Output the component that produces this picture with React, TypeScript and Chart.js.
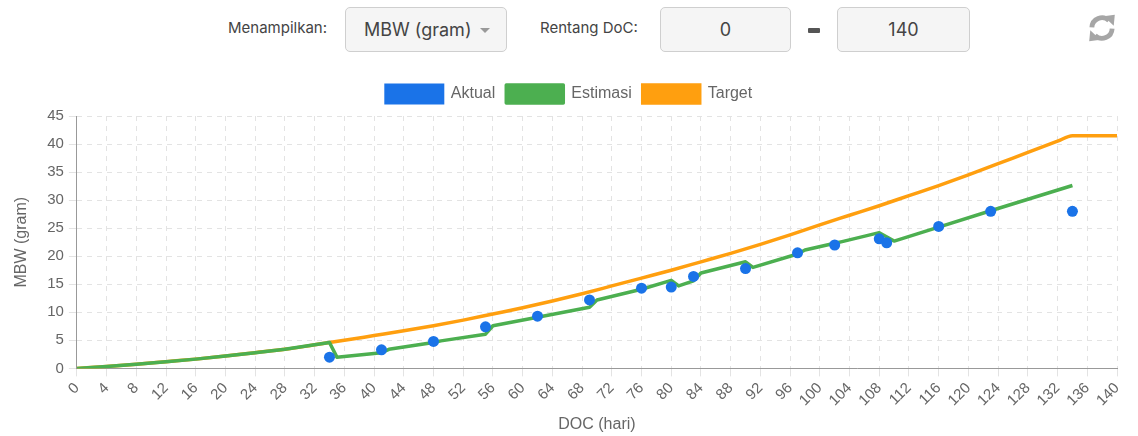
import React, { useEffect, useRef } from 'react';
import { Chart, registerables } from 'chart.js';

Chart.register(...registerables);

// ---- Data ----
const actualDays = [34, 41, 48, 55, 62, 69, 76, 80, 83, 90, 97, 102, 108, 109, 116, 123, 134];
const actualValues = [2.0, 3.3, 4.8, 7.4, 9.3, 12.2, 14.3, 14.5, 16.4, 17.8, 20.6, 22.0, 23.1, 22.4, 25.3, 28.0, 28.0];

const estimasiDays = [0, 4, 8, 12, 16, 20, 24, 28, 32, 34, 35, 41, 42, 48, 49, 55, 56, 62, 69, 70, 76, 80, 81, 83, 84, 90, 91, 97, 98, 102, 103, 108, 110, 116, 123, 134];
const estimasiValues = [0, 0.35, 0.75, 1.2, 1.65, 2.2, 2.8, 3.4, 4.2, 4.6, 2.0, 2.8, 3.4, 4.6, 4.9, 6.1, 7.6, 9.1, 10.9, 12.2, 14.1, 15.7, 14.7, 15.6, 17.0, 19.0, 18.0, 20.4, 21.1, 22.3, 22.6, 24.2, 22.7, 25.2, 28.1, 32.6];

const targetDays = [0, 4, 8, 12, 16, 20, 24, 28, 32, 34, 36, 40, 44, 48, 52, 56, 60, 64, 68, 72, 76, 80, 84, 88, 92, 96, 100, 104, 108, 112, 116, 120, 124, 128, 132, 134, 140];
const targetValues = [0, 0.35, 0.75, 1.2, 1.65, 2.2, 2.8, 3.4, 4.2, 4.6, 5.0, 5.85, 6.7, 7.6, 8.6, 9.7, 10.8, 12.0, 13.3, 14.7, 16.1, 17.5, 19.0, 20.5, 22.1, 23.8, 25.6, 27.3, 29.0, 30.8, 32.6, 34.5, 36.5, 38.5, 40.5, 41.5, 41.5];

const seriesLabels = ['Aktual', 'Estimasi', 'Target'];
const seriesColors = ['#1a73e8', '#4caf50', '#ff9f0f'];

const xMin = 0;
const xMax = 140;
const xStep = 4;
const yMin = 0;
const yMax = 45;
const yStep = 5;
const xTitle = 'DOC (hari)';
const yTitle = 'MBW (gram)';

const zip = (xs: number[], ys: number[]) => xs.map((x, i) => ({ x, y: ys[i] }));

// adds a little space below the legend
const legendGap = {
  id: 'legendGap',
  beforeInit(chart: any) {
    const legend = chart.legend;
    if (!legend) return;
    const origFit = legend.fit;
    legend.fit = function () {
      origFit.call(this);
      this.height += 3;
    };
  },
};

function RefreshIcon() {
  return (
    <svg width="32" height="32" viewBox="0 0 30 30">
      <g fill="none" stroke="#a6a6a6" strokeWidth="4.5" strokeLinecap="butt">
        <path d="M5.5 14.5 A9.5 9.5 0 0 1 21.5 8" />
        <path d="M24.5 15.5 A9.5 9.5 0 0 1 8.5 22" />
      </g>
      <polygon points="16.5,4 27,2.5 26,13" fill="#a6a6a6" />
      <polygon points="13.5,26 3,27.5 4,17" fill="#a6a6a6" />
    </svg>
  );
}

export default function App() {
  const canvasRef = useRef<HTMLCanvasElement | null>(null);

  useEffect(() => {
    if (!canvasRef.current) return;
    const tickFont = { family: 'Liberation Sans, Arial', size: 15 };
    const titleFont = { family: 'Liberation Sans, Arial', size: 16 };
    const chart = new Chart(canvasRef.current, {
      type: 'line',
      plugins: [legendGap],
      data: {
        datasets: [
          {
            label: seriesLabels[0],
            data: zip(actualDays, actualValues),
            showLine: false,
            backgroundColor: seriesColors[0],
            borderColor: seriesColors[0],
            pointRadius: 5.5,
            pointBorderWidth: 0,
            pointBackgroundColor: seriesColors[0],
          },
          {
            label: seriesLabels[1],
            data: zip(estimasiDays, estimasiValues),
            borderColor: seriesColors[1],
            backgroundColor: seriesColors[1],
            borderWidth: 3.5,
            pointRadius: 0,
            tension: 0,
            borderJoinStyle: 'round',
            fill: false,
          },
          {
            label: seriesLabels[2],
            data: zip(targetDays, targetValues),
            borderColor: seriesColors[2],
            backgroundColor: seriesColors[2],
            borderWidth: 3.5,
            pointRadius: 0,
            cubicInterpolationMode: 'monotone',
            fill: false,
          },
        ],
      },
      options: {
        animation: false,
        responsive: false,
        maintainAspectRatio: false,
        layout: { padding: { left: 21, right: 21, top: 0, bottom: 0 } },
        plugins: {
          legend: {
            display: true,
            position: 'top',
            labels: {
              boxWidth: 57,
              boxHeight: 18,
              color: '#666',
              font: titleFont,
              padding: 11,
            },
          },
          tooltip: { enabled: false },
        },
        scales: {
          x: {
            type: 'linear',
            min: xMin,
            max: xMax,
            ticks: {
              stepSize: xStep,
              autoSkip: false,
              minRotation: 45,
              maxRotation: 45,
              color: '#666',
              font: tickFont,
            },
            grid: { color: '#e3e3e3', tickColor: '#e3e3e3' },
            border: { color: '#999', dash: [5, 5] },
            title: { display: true, text: xTitle, color: '#666', font: titleFont, padding: { top: 2, bottom: 2 } },
          },
          y: {
            min: yMin,
            max: yMax,
            ticks: { stepSize: yStep, color: '#666', font: tickFont, padding: 5 },
            grid: { color: '#e3e3e3', tickColor: '#e3e3e3' },
            border: { color: '#999', dash: [5, 5] },
            title: { display: true, text: yTitle, color: '#666', font: titleFont, padding: { top: -9, bottom: 11 } },
          },
        },
      },
    });
    return () => chart.destroy();
  }, []);

  const font = 'Inter, "Noto Sans", sans-serif';
  const box: React.CSSProperties = {
    position: 'absolute',
    top: 7,
    height: 45,
    boxSizing: 'border-box',
    background: '#f5f5f5',
    border: '1px solid #cfcfcf',
    borderRadius: 5,
    fontFamily: font,
    fontSize: 18,
    color: '#444',
    display: 'flex',
    alignItems: 'center',
  };

  return (
    <div style={{ position: 'absolute', left: 0, top: 0, width: 1138, height: 436, background: '#fff', overflow: 'hidden' }}>
      <div style={{ position: 'absolute', left: 228, top: 18, fontFamily: font, fontSize: 15, color: '#444' }}>Menampilkan:</div>
      <div style={{ ...box, left: 345, width: 162, paddingLeft: 18 }}>
        MBW (gram)
        <span style={{ position: 'absolute', left: 134, top: 20, width: 0, height: 0, borderLeft: '5px solid transparent', borderRight: '5px solid transparent', borderTop: '5px solid #999' }} />
      </div>
      <div style={{ position: 'absolute', left: 540, top: 18, fontFamily: font, fontSize: 15, color: '#444' }}>Rentang DoC:</div>
      <div style={{ ...box, left: 660, width: 131, justifyContent: 'center' }}>0</div>
      <div style={{ position: 'absolute', left: 808, top: 28, width: 12, height: 5, background: '#555', borderRadius: 1 }} />
      <div style={{ ...box, left: 837, width: 133, justifyContent: 'center' }}>140</div>
      <div style={{ position: 'absolute', left: 1086, top: 12 }}>
        <RefreshIcon />
      </div>
      <canvas ref={canvasRef} width={1138} height={362} style={{ position: 'absolute', left: 0, top: 74, width: 1138, height: 362 }} />
    </div>
  );
}
